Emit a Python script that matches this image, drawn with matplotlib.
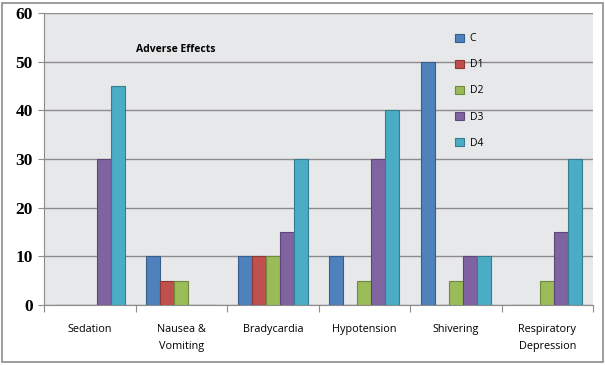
import matplotlib
matplotlib.use("Agg")
import matplotlib.pyplot as plt
import numpy as np
from matplotlib.patches import Rectangle

categories = ["Sedation", "Nausea &\nVomiting", "Bradycardia", "Hypotension", "Shivering", "Respiratory\nDepression"]
series_names = ["C", "D1", "D2", "D3", "D4"]
C = [0, 10, 10, 10, 50, 0]
D1 = [0, 5, 10, 0, 0, 0]
D2 = [0, 5, 10, 5, 5, 5]
D3 = [30, 0, 15, 30, 10, 15]
D4 = [45, 0, 30, 40, 10, 30]
values = [C, D1, D2, D3, D4]
colors = ["#4F81BD", "#C0504D", "#9BBB59", "#8064A2", "#4BACC6"]
edges = ["#385D8A", "#8C3836", "#71893F", "#5C4776", "#357D91"]

fig = plt.figure(figsize=(6.05, 3.65), dpi=100)
fig.patch.set_facecolor("white")
fig.patches.append(Rectangle((2/605, 3/365), 601/605, 359/365, transform=fig.transFigure,
                             fill=False, edgecolor="#8c8c8c", linewidth=1.2))
ax = fig.add_axes([44/605, 1 - 305/365, 549/605, 292/365])
ax.set_facecolor("#E7E8EA")

x = np.arange(len(categories))
w = 0.153
for i, (vals, col, ec, name) in enumerate(zip(values, colors, edges, series_names)):
    ax.bar(x + (i - 2) * w, vals, width=w, color=col, edgecolor=ec, linewidth=0.8,
           label=name, zorder=3)

ax.set_xlim(-0.5, len(categories) - 0.5)
ax.set_ylim(0, 60)
ax.set_yticks(range(0, 61, 10))
ax.yaxis.grid(True, color="#8c8c8c", linewidth=1.0, zorder=1)
ax.set_axisbelow(True)
for s in ["top", "right"]:
    ax.spines[s].set_visible(False)
ax.spines["left"].set_color("#8c8c8c")
ax.spines["bottom"].set_color("#8c8c8c")
ax.tick_params(axis="y", length=4, color="#8c8c8c", labelsize=12.5, pad=4)
for lab in ax.get_yticklabels():
    lab.set_fontfamily("Liberation Serif")
    lab.set_fontweight("bold")
ax.set_xticks(np.arange(-0.5, len(categories)), minor=False)
ax.set_xticklabels([""] * (len(categories) + 1))
ax.tick_params(axis="x", length=5, color="#8c8c8c")
ax.set_xticks(x, minor=True)
ax.set_xticklabels(categories, minor=True, fontsize=7.8, family="Open Sans", linespacing=1.75)
ax.tick_params(axis="x", which="minor", length=0, pad=14)

ax.text(136/605, 1 - 50/365, "Adverse Effects", transform=fig.transFigure,
        fontsize=7.5, fontweight="bold", family="Open Sans", va="center", ha="left")

leg = ax.legend(loc="upper left", bbox_to_anchor=(450/605, 1 - 28/365), bbox_transform=fig.transFigure,
                frameon=False, fontsize=7.5, handlelength=0.8, handleheight=0.8,
                labelspacing=1.45, handletextpad=0.6, borderpad=0)
for t in leg.get_texts():
    t.set_family("Open Sans")

fig.savefig("out.png", dpi=100)
